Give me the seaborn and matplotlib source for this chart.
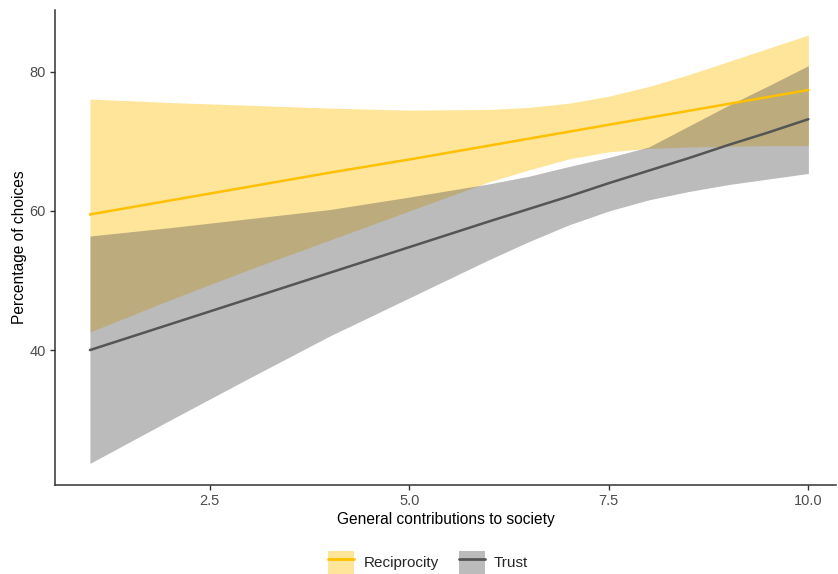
import numpy as np
import pandas as pd
import matplotlib.pyplot as plt
import seaborn as sns
from matplotlib.patches import Patch
from matplotlib.lines import Line2D

# values
contrib = [1, 2, 3, 4, 5, 6, 6.5, 7, 7.5, 8, 8.5, 9, 9.5, 10]

recip_fit = [59.5, 61.5, 63.5, 65.5, 67.4, 69.4, 70.4, 71.4, 72.4, 73.4, 74.4, 75.4, 76.4, 77.4]
recip_upper = [76.1, 75.6, 75.2, 74.8, 74.5, 74.6, 74.9, 75.5, 76.5, 77.9, 79.6, 81.5, 83.4, 85.3]
recip_lower = [42.6, 47.2, 51.6, 55.8, 60.0, 64.2, 65.9, 67.5, 68.5, 69.0, 69.2, 69.3, 69.4, 69.4]

trust_fit = [40.0, 43.7, 47.4, 51.1, 54.8, 58.5, 60.3, 62.1, 64.0, 65.8, 67.6, 69.5, 71.3, 73.2]
trust_upper = [56.4, 57.6, 58.9, 60.2, 62.0, 63.9, 65.0, 66.4, 67.7, 69.2, 72.2, 75.2, 78.0, 80.9]
trust_lower = [23.7, 29.9, 36.0, 42.0, 47.5, 53.0, 55.6, 58.0, 60.0, 61.6, 62.8, 63.8, 64.6, 65.4]

groups = ['Reciprocity', 'Trust']
colors = {'Reciprocity': '#FFC000', 'Trust': '#555555'}

df = pd.concat([
    pd.DataFrame({'contrib': contrib, 'fit': recip_fit, 'lower': recip_lower,
                  'upper': recip_upper, 'group': 'Reciprocity'}),
    pd.DataFrame({'contrib': contrib, 'fit': trust_fit, 'lower': trust_lower,
                  'upper': trust_upper, 'group': 'Trust'}),
])

sns.set_theme(style="ticks")
plt.rcParams['font.family'] = ['Liberation Sans', 'DejaVu Sans']

fig = plt.figure(figsize=(8.38, 5.74), dpi=100)
ax = fig.add_axes([55 / 838, 1 - 485 / 574, 1 - 55 / 838 - 0.002, (485 - 10) / 574])

# ribbon then line for each group, like geom_smooth
for g in groups:
    sub = df[df['group'] == g]
    ax.fill_between(sub['contrib'], sub['lower'], sub['upper'],
                    color=colors[g], alpha=0.4, linewidth=0)
    sns.lineplot(data=sub, x='contrib', y='fit', color=colors[g],
                 linewidth=1.8, ax=ax, legend=False)

ax.set_xlim(0.5625, 10.35)
ax.set_ylim(20.6, 88.9)
ax.set_xticks([2.5, 5.0, 7.5, 10.0])
ax.set_xticklabels(['2.5', '5.0', '7.5', '10.0'])
ax.set_yticks([40, 60, 80])
ax.set_yticklabels(['40', '60', '80'])
ax.tick_params(axis='both', colors='#333333', labelcolor='#4D4D4D',
               labelsize=10.5, length=3.5, width=1.0, pad=3)

sns.despine(ax=ax)
for side in ['left', 'bottom']:
    ax.spines[side].set_color('#333333')
    ax.spines[side].set_linewidth(1.1)

ax.set_xlabel('General contributions to society', fontsize=11.2, color='black', labelpad=3)
ax.set_ylabel('Percentage of choices', fontsize=11.2, color='black', labelpad=2)

handles = [(Patch(facecolor=colors[g], alpha=0.4, edgecolor='none'),
            Line2D([0], [0], color=colors[g], linewidth=2.0)) for g in groups]
fig.legend(handles, groups, loc='center', bbox_to_anchor=(0.511, 0.02),
           ncol=2, frameon=False, fontsize=11, handlelength=1.7,
           handleheight=2.0, handletextpad=0.6, columnspacing=1.3,
           borderaxespad=0)

fig.savefig('out.png', dpi=100)
